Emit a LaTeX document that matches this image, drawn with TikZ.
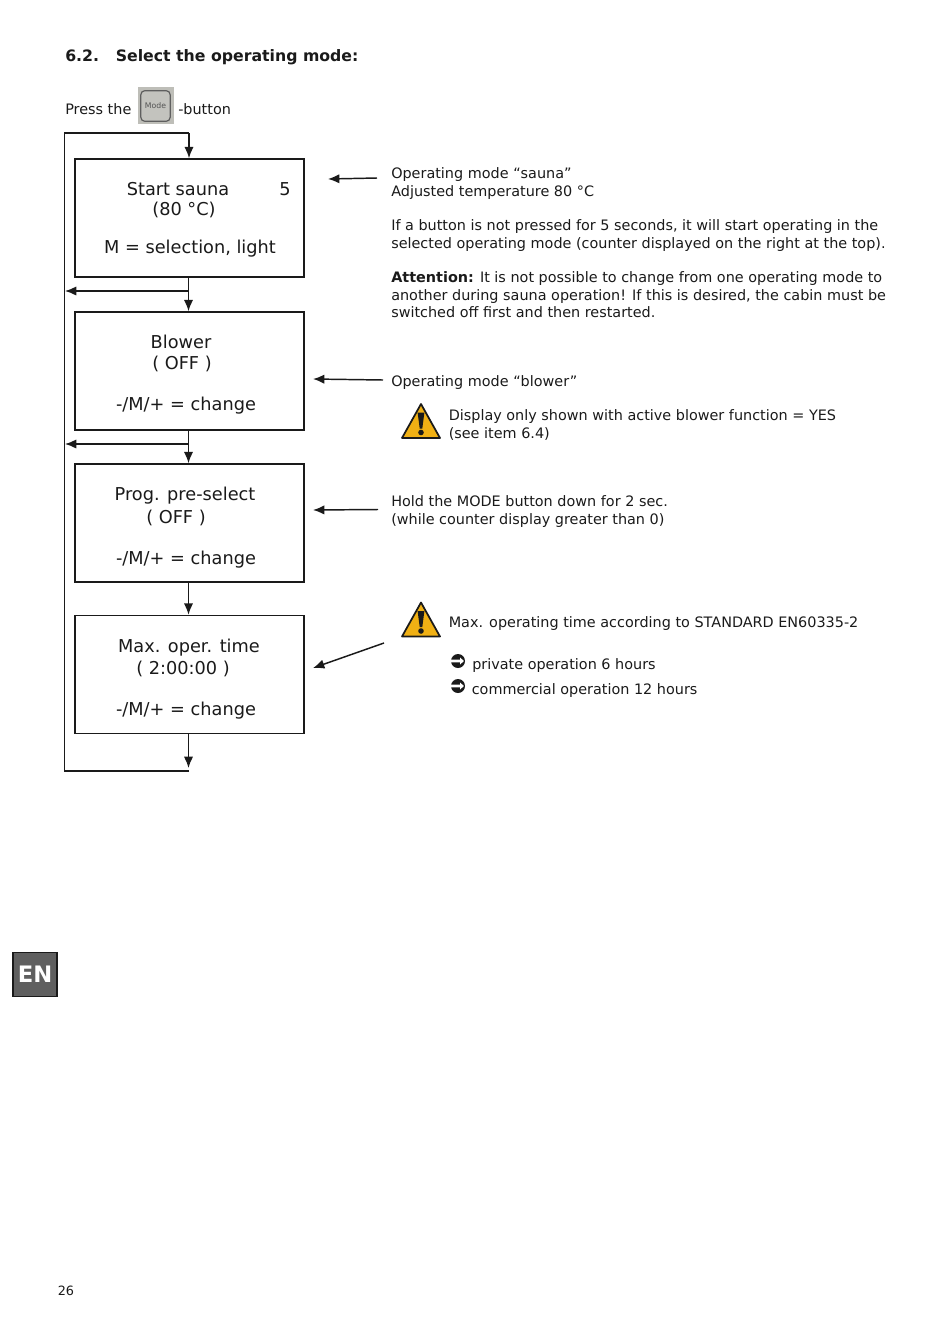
\documentclass[tikz,border=0pt]{standalone}
\usepackage{fontspec}
\setmainfont{DejaVu Sans}
\usepackage{xcolor}
\usetikzlibrary{arrows.meta,positioning,calc}
\definecolor{tinta}{HTML}{1A1A1A}
\definecolor{ambar}{HTML}{F0B014}
\definecolor{gris}{HTML}{5F5F5F}
\definecolor{tecla}{HTML}{BEBEB8}
\newcommand{\aviso}[1]{%
  \draw[draw=tinta,fill=ambar,line width=1.3pt,line join=round] ($(#1)+(0,-17)$) -- ($(#1)+(19,17)$) -- ($(#1)+(-19,17)$) -- cycle;
  \fill[tinta] ($(#1)+(-3.4,-8.5)$) -- ($(#1)+(3.4,-8.5)$) -- ($(#1)+(1.3,7.5)$) -- ($(#1)+(-1.3,7.5)$) -- cycle;
  \fill[tinta] ($(#1)+(0,11.5)$) circle (2.8);
}
\begin{document}
\begin{tikzpicture}[x=0.75pt,y=-0.75pt,text=tinta,
  caja/.style={draw=tinta,line width=1.2pt,minimum width=171.75pt,minimum height=88.5pt,inner sep=0pt,fill=white},
  linea/.style={font=\fontsize{13.3}{16}\selectfont,inner sep=0pt},
  nota/.style={font=\fontsize{10.8}{13}\selectfont,align=left,anchor=north west,inner sep=0pt},
  bala/.style={circle,fill=tinta,minimum size=10.5pt,inner sep=0pt},
  flecha/.style={draw=tinta,line width=1.1pt,-{Latex[length=8.5pt,width=7pt]}},
  tramo/.style={draw=tinta,line width=1.2pt}]
\useasboundingbox (0,0) rectangle (950,1336);
\node[font=\fontsize{11.8}{14}\selectfont\bfseries,anchor=west,inner sep=0pt] (titulo) at (65,57.5) {6.2.\hspace{12.5pt}Select the operating mode:};
\node[nota,anchor=west] (pulsa) at (65,109) {Press the};
\node[fill=tecla,minimum width=27pt,minimum height=27.75pt,inner sep=0pt] (tecla) at (155.5,105.5) {};
\node[draw=tinta!70,line width=0.9pt,fill=tecla!92!white,rounded corners=3pt,minimum width=22pt,minimum height=23pt,inner sep=0pt,text=tinta!75,font=\fontsize{5.8}{6}\selectfont] (modo) at (155.5,106) {Mode};
\node[nota,anchor=west] (boton) at (178,109) {-button};
%cajas
\foreach \n/\y in {a/218, b/371, c/523, d/674.5}{
  \node[caja] (\n) at (189.5,\y) {};
}
\node[linea] (a1) at (178,189) {Start sauna};
\node[linea] (a0) at (285,189) {5};
\node[linea] (a2) at (184,210) {(80 °C)};
\node[linea] (a3) at (190,248.5) {M = selection, light};
\node[linea] (b1) at (181,342) {Blower};
\node[linea] (b2) at (182,364) {( OFF )};
\node[linea] (b3) at (186,406) {-/M/+ = change};
\node[linea] (c1) at (185,496) {Prog. pre-select};
\node[linea] (c2) at (176,518) {( OFF )};
\node[linea] (c3) at (186,560) {-/M/+ = change};
\node[linea] (d1) at (189,647.5) {Max. oper. time};
\node[linea] (d2) at (183,668.5) {( 2:00:00 )};
\node[linea] (d3) at (186,711) {-/M/+ = change};
%conectores
\coordinate (arriba) at (64.5,133);
\coordinate (abajo) at (64.5,771);
\coordinate (fin) at (188.5,768);
\coordinate (rama1) at (188.5,291);
\coordinate (rama2) at (188.5,444);
\coordinate (lado1) at (65,291);
\coordinate (lado2) at (65,444);
\draw[tramo] (189,771) -- (abajo) -- (arriba) -- (189,133);
\draw[flecha] (189,133) -- (a.north -| 189,133);
\draw[flecha] (188.5,277) -- (b.north -| rama1);
\draw[flecha] (188.5,430) -- (c.north -| rama2);
\draw[flecha] (188.5,582) -- (d.north -| rama2);
\draw[flecha] (188.5,733) -- (fin);
\draw[flecha] (rama1) -- (lado1);
\draw[flecha] (rama2) -- (lado2);
%notas
\node[nota] (n1) at (391,167.5) {Operating mode “sauna”\\Adjusted temperature 80 °C};
\node[nota] (n2) at (391,219.5) {If a button is not pressed for 5 seconds, it will start operating in the\\selected operating mode (counter displayed on the right at the top).};
\node[nota] (n3) at (391,271.5) {\textbf{Attention:} It is not possible to change from one operating mode to\\another during sauna operation! If this is desired, the cabin must be\\switched off first and then restarted.};
\node[nota] (n4) at (391,375) {Operating mode “blower”};
\node[nota] (n5) at (448.5,409.5) {Display only shown with active blower function = YES\\(see item 6.4)};
\node[nota] (n6) at (391,495.5) {Hold the MODE button down for 2 sec.\\(while counter display greater than 0)};
\node[nota] (n7) at (448.5,616) {Max. operating time according to STANDARD EN60335-2};
\node[nota] (n8) at (472,658) {private operation 6 hours};
\node[nota] (n9) at (471.5,683) {commercial operation 12 hours};
\foreach \n/\y in {p1/661, p2/686}{
  \node[bala] (\n) at (458,\y) {};
  \fill[white] ($(\n)+(-8,-1.4)$) -- ($(\n)+(2,-1.4)$) -- ($(\n)+(2,-3.5)$) -- ($(\n)+(6,0)$) -- ($(\n)+(2,3.5)$) -- ($(\n)+(2,1.4)$) -- ($(\n)+(-8,1.4)$) -- cycle;
}
\coordinate (s1) at (377,178);
\coordinate (e1) at (328,179);
\coordinate (s2) at (383,380);
\coordinate (e2) at (313,379);
\coordinate (s3) at (378,509.5);
\coordinate (e3) at (313,510);
\coordinate (s4) at (384,643);
\coordinate (e4) at (313,668);
\foreach \i in {1,2,3,4}{
  \draw[flecha] (s\i) -- (e\i);
}
\aviso{421,421}
\aviso{421,619.5}
%pagina
\node[draw=tinta,line width=0.9pt,fill=gris,minimum width=33pt,minimum height=33pt,inner sep=0pt,text=white,font=\fontsize{17}{20}\selectfont\bfseries] (idioma) at (35,974.5) {EN};
\node[font=\fontsize{9.6}{11}\selectfont,inner sep=0pt] (pagina) at (66,1290.5) {26};
\end{tikzpicture}
\end{document}
